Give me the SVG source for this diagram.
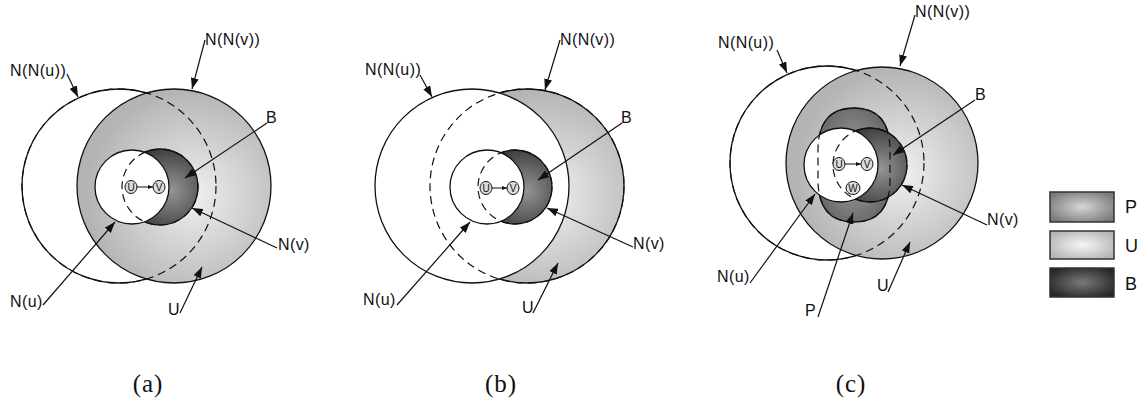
<svg xmlns="http://www.w3.org/2000/svg" width="1141" height="401" viewBox="0 0 1141 401">
<style>
.lbl{font-family:"Liberation Sans",Arial,sans-serif;font-size:16px;letter-spacing:0.4px;fill:#111}
.cap{font-family:"Liberation Serif","Times New Roman",serif;font-size:25px;fill:#111;text-anchor:middle;letter-spacing:1px}
.leg{font-family:"Liberation Sans",Arial,sans-serif;font-size:18px;fill:#111}
.ln{stroke:#111;stroke-width:1.3;fill:none}
.ds{stroke:#111;stroke-width:1.2;fill:none;stroke-dasharray:8 5}
.wh{fill:#fff;stroke:#111;stroke-width:1.3}
.gr{fill:url(#gU);stroke:#111;stroke-width:1.3}
.dk{fill:url(#gB);stroke:#111;stroke-width:1.3}
.pp{fill:url(#gP);stroke:#111;stroke-width:1.3}
.nd{fill:#ddd;stroke:#111;stroke-width:1}
.nt{font-family:"Liberation Sans",Arial,sans-serif;font-size:10px;fill:#111;text-anchor:middle}
.ar{stroke:#111;stroke-width:1.2;fill:none;marker-end:url(#ah)}
.sa{stroke:#111;stroke-width:1;fill:none;marker-end:url(#sh)}
.box{stroke:#333;stroke-width:1.5}
</style>
<defs>
<radialGradient id="gU" cx="0.6" cy="0.55" r="0.55">
<stop offset="0" stop-color="#f0f0f0"/><stop offset="1" stop-color="#b4b4b4"/>
</radialGradient>
<radialGradient id="gB" cx="0.65" cy="0.55" r="0.6">
<stop offset="0" stop-color="#959595"/><stop offset="1" stop-color="#3a3a3a"/>
</radialGradient>
<radialGradient id="gP" cx="0.5" cy="0.5" r="0.6">
<stop offset="0" stop-color="#ababab"/><stop offset="1" stop-color="#626262"/>
</radialGradient>
<radialGradient id="lP" cx="0.5" cy="0.5" r="0.6">
<stop offset="0" stop-color="#d6d6d6"/><stop offset="1" stop-color="#7a7a7a"/>
</radialGradient>
<radialGradient id="lU" cx="0.5" cy="0.5" r="0.6">
<stop offset="0" stop-color="#f6f6f6"/><stop offset="1" stop-color="#b4b4b4"/>
</radialGradient>
<radialGradient id="lB" cx="0.5" cy="0.5" r="0.6">
<stop offset="0" stop-color="#7a7a7a"/><stop offset="1" stop-color="#262626"/>
</radialGradient>
<marker id="ah" markerUnits="userSpaceOnUse" markerWidth="11" markerHeight="8" refX="11" refY="4" orient="auto">
<path d="M0,0 L11,4 L0,8 z" fill="#111"/>
</marker>
<marker id="sh" markerUnits="userSpaceOnUse" markerWidth="5" markerHeight="4" refX="5" refY="2" orient="auto">
<path d="M0,0 L5,2 L0,4 z" fill="#111"/>
</marker>
</defs>

<!-- Panel (a) -->
<g id="panel-a">
<g id="a-NNu"><circle class="wh" cx="119" cy="186" r="97"/></g>
<g id="a-NNv"><circle class="gr" cx="174" cy="186" r="97"/></g>
<circle class="ds" cx="119" cy="186" r="97"/>
<g id="a-Nv"><circle class="dk" cx="160" cy="187" r="38"/></g>
<g id="a-Nu"><circle class="wh" cx="132" cy="187" r="37"/></g>
<circle class="ds" cx="160" cy="187" r="38"/>
<g id="a-u"><ellipse class="nd" cx="131" cy="187" rx="6" ry="6.5"/><text class="nt" x="131" y="190.5">U</text></g>
<g id="a-v"><ellipse class="nd" cx="159" cy="187" rx="6" ry="6.5"/><text class="nt" x="159" y="190.5">V</text></g>
<text class="lbl" x="10" y="76">N(N(u))</text>
<text class="lbl" x="205" y="45">N(N(v))</text>
<text class="lbl" x="266" y="123">B</text>
<text class="lbl" x="278" y="250">N(v)</text>
<text class="lbl" x="10" y="307">N(u)</text>
<text class="lbl" x="168" y="315">U</text>
<text class="cap" x="148" y="392">(a)</text>
</g>

<!-- Panel (b) -->
<g id="panel-b">
<g id="b-NNv"><circle class="gr" cx="527" cy="186" r="97"/></g>
<g id="b-NNu"><circle class="wh" cx="472" cy="186" r="97"/></g>
<circle class="ds" cx="527" cy="186" r="97"/>
<g id="b-Nv"><circle class="dk" cx="515" cy="187" r="37"/></g>
<g id="b-Nu"><circle class="wh" cx="487" cy="187" r="37"/></g>
<circle class="ds" cx="515" cy="187" r="37"/>
<g id="b-u"><ellipse class="nd" cx="486" cy="188" rx="6" ry="6.5"/><text class="nt" x="486" y="191.5">U</text></g>
<g id="b-v"><ellipse class="nd" cx="513" cy="188" rx="6" ry="6.5"/><text class="nt" x="513" y="191.5">V</text></g>
<text class="lbl" x="365" y="75">N(N(u))</text>
<text class="lbl" x="560" y="45">N(N(v))</text>
<text class="lbl" x="621" y="123">B</text>
<text class="lbl" x="633" y="249">N(v)</text>
<text class="lbl" x="363" y="305">N(u)</text>
<text class="lbl" x="522" y="313">U</text>
<text class="cap" x="501" y="392">(b)</text>
</g>

<!-- Panel (c) -->
<g id="panel-c">
<g id="c-NNu"><circle class="wh" cx="827" cy="163" r="97"/></g>
<g id="c-NNv"><circle class="gr" cx="882" cy="163" r="96"/></g>
<circle class="ds" cx="827" cy="163" r="97"/>
<g id="c-P"><path class="pp" d="M854,108 C880,108 890,125 890,150 L890,180 C890,205 880,222 854,222 C828,222 818,205 818,180 L818,150 C818,125 828,108 854,108 Z"/></g>
<g id="c-Nv"><circle class="dk" cx="870" cy="165" r="37"/></g>
<g id="c-Nu"><circle class="wh" cx="841" cy="165" r="37"/></g>
<circle class="ds" cx="870" cy="165" r="37"/>
<path class="ds" d="M854,108 C880,108 890,125 890,150 L890,180 C890,205 880,222 854,222 C828,222 818,205 818,180 L818,150 C818,125 828,108 854,108 Z"/>
<g id="c-u"><ellipse class="nd" cx="839" cy="164" rx="6" ry="6.5"/><text class="nt" x="839" y="167.5">U</text></g>
<g id="c-v"><ellipse class="nd" cx="867" cy="164" rx="6" ry="6.5"/><text class="nt" x="867" y="167.5">V</text></g>
<g id="c-w"><ellipse class="nd" cx="853" cy="188" rx="7" ry="6.5"/><text class="nt" x="853" y="191.5">W</text></g>
<text class="lbl" x="718" y="48">N(N(u))</text>
<text class="lbl" x="915" y="17">N(N(v))</text>
<text class="lbl" x="975" y="100">B</text>
<text class="lbl" x="987" y="225">N(v)</text>
<text class="lbl" x="717" y="282">N(u)</text>
<text class="lbl" x="805" y="316">P</text>
<text class="lbl" x="877" y="291">U</text>
<text class="cap" x="851" y="392">(c)</text>
</g>

<!-- Legend -->
<g id="legend-P"><rect class="box" x="1050" y="192" width="64" height="30" fill="url(#lP)"/><text class="leg" x="1125" y="213">P</text></g>
<g id="legend-U"><rect class="box" x="1050" y="231" width="64" height="28" fill="url(#lU)"/><text class="leg" x="1125" y="252">U</text></g>
<g id="legend-B"><rect class="box" x="1050" y="268" width="64" height="29" fill="url(#lB)"/><text class="leg" x="1125" y="290">B</text></g>

<!-- Connectors -->
<g id="connectors">
<line class="sa" x1="137" y1="187" x2="153" y2="187"/>
<line class="sa" x1="492" y1="188" x2="507" y2="188"/>
<line class="sa" x1="845" y1="164" x2="861" y2="164"/>
<line class="ar" x1="67" y1="74" x2="78" y2="97"/>
<line class="ar" x1="205" y1="40" x2="192" y2="89"/>
<line class="ar" x1="267" y1="123" x2="185" y2="178"/>
<line class="ar" x1="277" y1="248" x2="192" y2="208"/>
<line class="ar" x1="43" y1="305" x2="115" y2="222"/>
<line class="ar" x1="180" y1="313" x2="202" y2="267"/>
<line class="ar" x1="420" y1="75" x2="432" y2="97"/>
<line class="ar" x1="560" y1="40" x2="545" y2="90"/>
<line class="ar" x1="622" y1="123" x2="538" y2="180"/>
<line class="ar" x1="633" y1="247" x2="547" y2="208"/>
<line class="ar" x1="397" y1="305" x2="470" y2="222"/>
<line class="ar" x1="533" y1="313" x2="558" y2="263"/>
<line class="ar" x1="777" y1="50" x2="787" y2="73"/>
<line class="ar" x1="915" y1="15" x2="900" y2="66"/>
<line class="ar" x1="975" y1="100" x2="893" y2="155"/>
<line class="ar" x1="987" y1="225" x2="902" y2="185"/>
<line class="ar" x1="750" y1="283" x2="815" y2="194"/>
<line class="ar" x1="818" y1="317" x2="853" y2="213"/>
<line class="ar" x1="888" y1="292" x2="910" y2="242"/>
</g>
</svg>
